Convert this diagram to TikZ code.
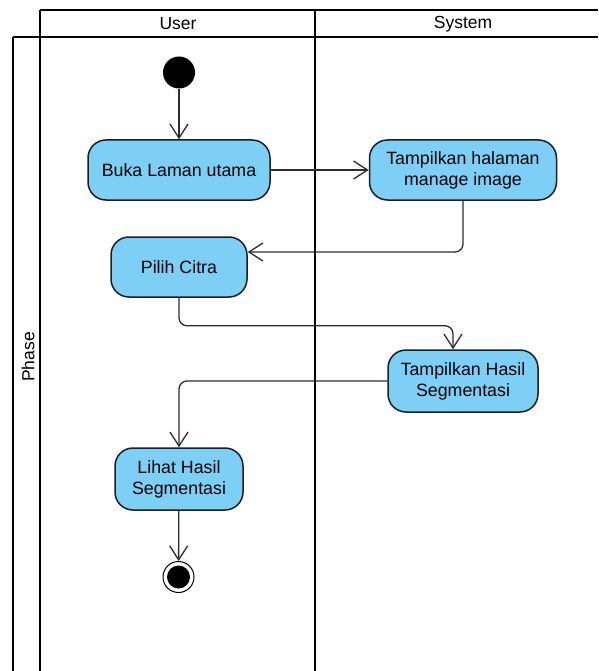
\documentclass[tikz,border=0pt]{standalone}
\usepackage{fontspec}
\setmainfont{Liberation Sans}
\usetikzlibrary{arrows.meta,calc}

\definecolor{actfill}{RGB}{125,207,245}
\definecolor{actline}{RGB}{30,30,30}
\definecolor{flow}{RGB}{45,45,45}

\tikzset{
  lane/.style={line width=2.2pt, black},
  lanetitle/.style={font=\fontsize{17.5}{21}\selectfont, anchor=center, inner sep=0pt},
  activity/.style={draw=actline, line width=1.5pt, fill=actfill, rounded corners=18pt,
    align=center, font=\fontsize{17.8}{21}\selectfont, inner sep=0pt},
  initial/.style={circle, fill=black, minimum size=32pt, inner sep=0pt},
  final/.style={circle, draw=black, line width=1pt, fill=white, minimum size=31pt, inner sep=0pt,
    path picture={\fill[black] (path picture bounding box.center) circle (11.5pt);}},
  flowline/.style={draw=flow, line width=1.3pt, rounded corners=8pt,
    -{Straight Barb[length=14pt,width=18pt,line width=1.3pt]}},
}

\begin{document}
\begin{tikzpicture}[x=1pt, y=-1pt]
  \useasboundingbox (0,0) rectangle (598,671);

  % swimlane frame
  \draw[lane] (40,10) -- (598,10);
  \draw[lane] (13,37) -- (598,37);
  \draw[lane] (13,37) -- (13,671);
  \draw[lane] (40,10) -- (40,671);
  \draw[lane] (315,10) -- (315,671);

  \node[lanetitle] (user) at (178,24) {User};
  \node[lanetitle] (system) at (463,24) {System};
  \node[lanetitle, rotate=90] (phase) at (28,357) {Phase};

  % activities
  \node[initial] (start) at (179,72.5) {};
  \node[activity, minimum width=182pt, minimum height=60pt] (buka) at (179,170) {Buka Laman utama};
  \node[activity, minimum width=187pt, minimum height=60pt] (tampil) at (463,170) {Tampilkan halaman\\manage image};
  \node[activity, minimum width=136pt, minimum height=60pt] (pilih) at (179,267) {Pilih Citra};
  \node[activity, minimum width=150pt, minimum height=62pt] (hasil) at (463,381) {Tampilkan Hasil\\Segmentasi};
  \node[activity, minimum width=128pt, minimum height=62pt] (lihat) at (179,479) {Lihat Hasil\\Segmentasi};
  \node[final] (end) at (178.5,577) {};

  % control flow
  \draw[flowline] (start) -- (buka);
  \draw[flowline] (buka) -- (tampil);
  \draw[flowline] (tampil.south) |- ([yshift=15pt]pilih.east);
  \draw[flowline] (pilih.south) -- ++(0,28) -| ([xshift=-10pt]hasil.north);
  \draw[flowline] (hasil.west) -| (lihat.north);
  \draw[flowline] (lihat) -- (end);
\end{tikzpicture}
\end{document}
